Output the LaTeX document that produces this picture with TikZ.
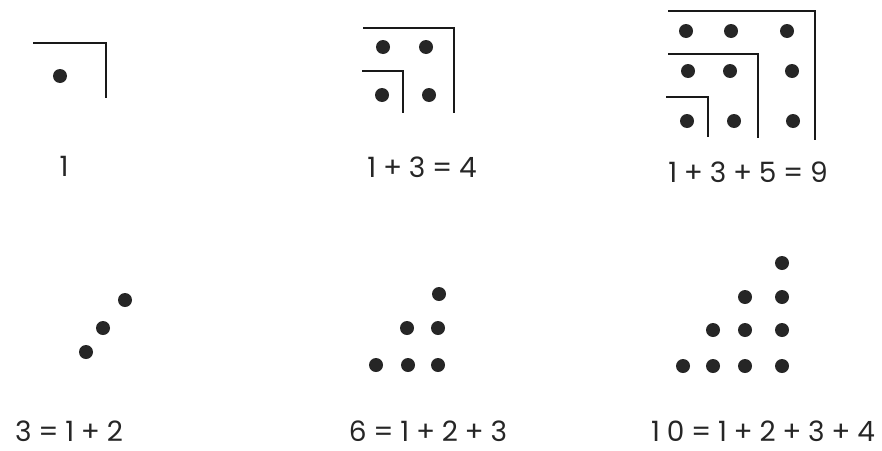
\documentclass[tikz,border=0pt]{standalone}
\usepackage{fontspec}
\setmainfont{Poppins}[LetterSpace=24]
\begin{document}
\begin{tikzpicture}[x=1pt,y=-1pt,
  dot/.style={circle,fill=black!85,minimum size=14pt,inner sep=0pt},
  bar/.style={line width=2pt,black!90},
  lab/.style={font=\fontsize{28}{30}\selectfont,inner sep=0pt,text=black!85,
    text height=20pt,text depth=0pt}]
\useasboundingbox (0,0) rectangle (882,450);
% panel 1
\draw[bar] (33,43) -- (106,43) -- (106,98);
\node[dot] (a1) at (60,76) {};
\node[lab] (la) at (64,166) {1};
% panel 2
\draw[bar] (363,28) -- (454,28) -- (454,113);
\draw[bar] (362,71) -- (403,71) -- (403,113);
\node[dot] (b1) at (383,47) {};
\node[dot] (b2) at (426,47) {};
\node[dot] (b3) at (382,95) {};
\node[dot] (b4) at (429,95) {};
\node[lab] (lb) at (422,167) {1+3=4};
% panel 3
\draw[bar] (668,11) -- (815,11) -- (815,140);
\draw[bar] (668,54) -- (758,54) -- (758,138);
\draw[bar] (666,97) -- (708,97) -- (708,137);
\node[dot] (c1) at (686,31) {};
\node[dot] (c2) at (731,31) {};
\node[dot] (c3) at (787,31) {};
\node[dot] (c4) at (688,71) {};
\node[dot] (c5) at (730,71) {};
\node[dot] (c6) at (792,71) {};
\node[dot] (c7) at (687,121) {};
\node[dot] (c8) at (734,121) {};
\node[dot] (c9) at (793,121) {};
\node[lab] (lc) at (748,172) {1+3+5=9};
% panel 4
\node[dot] (d1) at (125,300) {};
\node[dot] (d2) at (103,328) {};
\node[dot] (d3) at (86,352) {};
\node[lab] (ld) at (69,431) {3=1+2};
% panel 5
\node[dot] (e1) at (439,294) {};
\node[dot] (e2) at (407,328) {};
\node[dot] (e3) at (438,328) {};
\node[dot] (e4) at (376,365) {};
\node[dot] (e5) at (408,365) {};
\node[dot] (e6) at (438,365) {};
\node[lab] (le) at (428,431) {6=1+2+3};
% panel 6
\node[dot] (f1) at (782,263) {};
\node[dot] (f2) at (745,297) {};
\node[dot] (f3) at (782,297) {};
\node[dot] (f4) at (713,330) {};
\node[dot] (f5) at (745,330) {};
\node[dot] (f6) at (782,330) {};
\node[dot] (f7) at (683,366) {};
\node[dot] (f8) at (713,366) {};
\node[dot] (f9) at (745,366) {};
\node[dot] (f10) at (782,366) {};
\node[lab] (lf) at (763,431) {10=1+2+3+4};
\end{tikzpicture}
\end{document}
